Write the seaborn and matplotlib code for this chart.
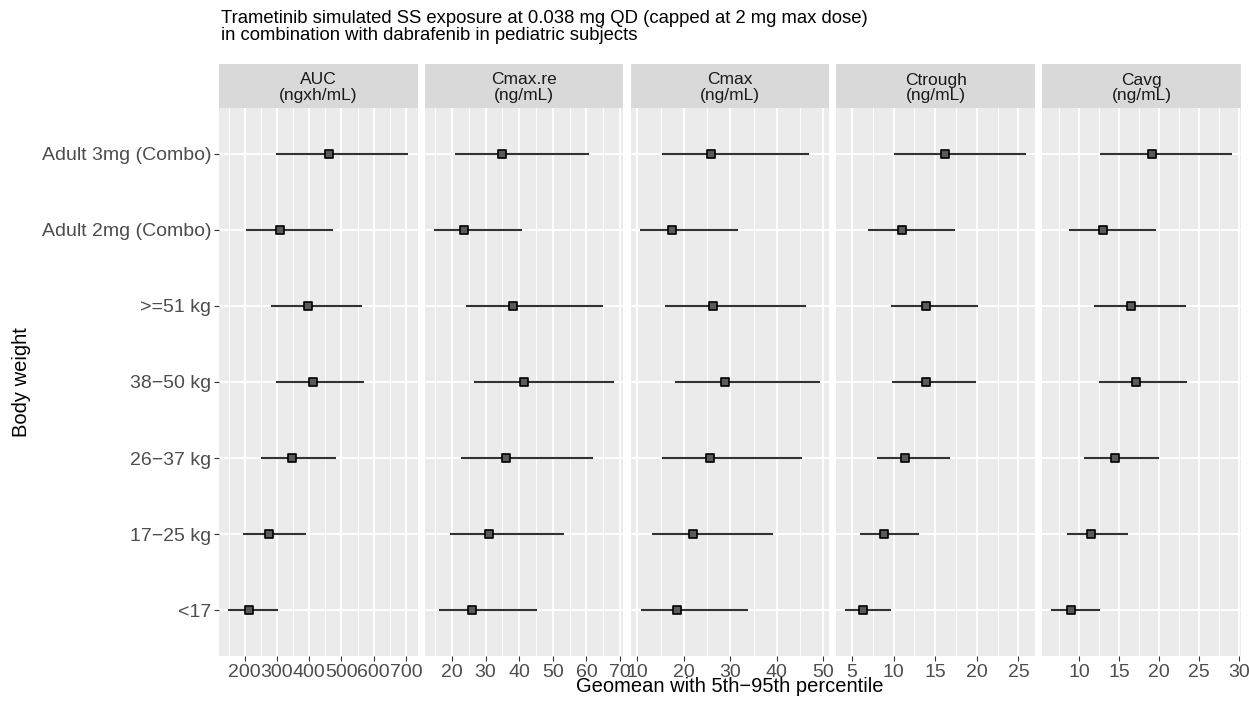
import numpy as np
import pandas as pd
import matplotlib
matplotlib.use("Agg")
import matplotlib.pyplot as plt
from matplotlib.ticker import MultipleLocator
import seaborn as sns

# ---------------- data ----------------
groups = ["<17", "17\u221225 kg", "26\u221237 kg", "38\u221250 kg", ">=51 kg",
          "Adult 2mg (Combo)", "Adult 3mg (Combo)"]
metrics = ["AUC", "Cmax.re", "Cmax", "Ctrough", "Cavg"]
units = ["(ngxh/mL)", "(ng/mL)", "(ng/mL)", "(ng/mL)", "(ng/mL)"]
tick_steps = [100, 10, 10, 5, 5]

auc_gm = [212, 275, 345, 411, 397, 310, 460]
auc_lo = [148, 196, 249, 296, 280, 203, 298]
auc_hi = [302, 389, 484, 569, 564, 475, 708]

cmaxre_gm = [25.9, 31.0, 36.2, 41.4, 38.1, 23.7, 34.9]
cmaxre_lo = [16.0, 19.5, 22.7, 26.7, 24.2, 14.6, 21.0]
cmaxre_hi = [45.4, 53.3, 62.0, 68.3, 64.8, 40.9, 60.8]

cmax_gm = [18.6, 22.0, 25.6, 28.8, 26.3, 17.5, 25.9]
cmax_lo = [10.7, 13.2, 15.4, 18.0, 16.0, 10.5, 15.3]
cmax_hi = [33.7, 39.1, 45.4, 49.3, 46.2, 31.7, 47.0]

ctrough_gm = [6.3, 8.8, 11.4, 13.9, 13.9, 11.0, 16.2]
ctrough_lo = [4.2, 6.0, 8.0, 9.8, 9.7, 6.9, 10.0]
ctrough_hi = [9.7, 13.0, 16.8, 19.9, 20.2, 17.4, 25.9]

cavg_gm = [9.0, 11.5, 14.5, 17.1, 16.5, 13.0, 19.1]
cavg_lo = [6.5, 8.5, 10.6, 12.5, 11.8, 8.7, 12.6]
cavg_hi = [12.6, 16.1, 20.0, 23.5, 23.4, 19.6, 29.1]

title_lines = ["Trametinib simulated SS exposure at 0.038 mg QD (capped at 2 mg max dose)",
               "in combination with dabrafenib in pediatric subjects"]
xlabel = "Geomean with 5th\u221295th percentile"
ylabel = "Body weight"

series = {
    "AUC": (auc_gm, auc_lo, auc_hi),
    "Cmax.re": (cmaxre_gm, cmaxre_lo, cmaxre_hi),
    "Cmax": (cmax_gm, cmax_lo, cmax_hi),
    "Ctrough": (ctrough_gm, ctrough_lo, ctrough_hi),
    "Cavg": (cavg_gm, cavg_lo, cavg_hi),
}
rows = []
for m in metrics:
    gm, lo, hi = series[m]
    for g, a, b, c in zip(groups, gm, lo, hi):
        rows.append({"metric": m, "group": g, "gm": a, "lo": b, "hi": c})
df = pd.DataFrame(rows)

# ---------------- style ----------------
sns.set_theme(style="darkgrid")
plt.rcParams["font.family"] = ["Liberation Sans", "DejaVu Sans"]

W, H = 1249, 705
fig = plt.figure(figsize=(W / 100, H / 100), dpi=100, facecolor="white")

def fx(px):
    return px / W

def fy(py):
    return 1 - py / H

left, right, top, bottom = 219, 1240.7, 108, 656
gap = 7.3
pw = (right - left - 4 * gap) / 5

axes = []
for i, m in enumerate(metrics):
    x0 = left + i * (pw + gap)
    ax = fig.add_axes([fx(x0), fy(bottom), fx(pw), (bottom - top) / H])
    axes.append(ax)
    sub = df[df["metric"] == m]
    ax.set_facecolor("#EBEBEB")
    ax.hlines(list(sub["group"]), sub["lo"], sub["hi"], color="#333333",
              lw=1.5, zorder=2)
    sns.scatterplot(data=sub, x="gm", y="group", ax=ax, marker="s", s=40,
                    color="#5A5A5A", edgecolor="black", linewidth=1.2,
                    zorder=3, legend=False)
    lo_min, hi_max = sub["lo"].min(), sub["hi"].max()
    pad = 0.05 * (hi_max - lo_min)
    ax.set_xlim(lo_min - pad, hi_max + pad)
    ax.set_ylim(-0.6, len(groups) - 0.4)
    ax.xaxis.set_major_locator(MultipleLocator(tick_steps[i]))
    ax.xaxis.set_minor_locator(MultipleLocator(tick_steps[i] / 2))
    ax.grid(False)
    ax.grid(which="major", axis="both", color="white", lw=1.4)
    ax.grid(which="minor", axis="x", color="white", lw=0.7)
    ax.set_axisbelow(True)
    for s in ax.spines.values():
        s.set_visible(False)
    ax.tick_params(axis="both", which="major", length=3.5, width=0.8,
                   color="#333333", labelsize=14, labelcolor="#4D4D4D", pad=2)
    ax.tick_params(axis="x", which="minor", length=0)
    ax.tick_params(axis="x", which="major", bottom=True)
    ax.tick_params(axis="y", which="major", left=True)
    ax.set_xlabel("")
    ax.set_ylabel("")
    if i > 0:
        ax.tick_params(axis="y", labelleft=False, left=False)

    # strip
    st_top = 64
    sax = fig.add_axes([fx(x0), fy(top), fx(pw), (top - st_top) / H])
    sax.set_facecolor("#D9D9D9")
    sax.set_xticks([])
    sax.set_yticks([])
    sax.grid(False)
    for s in sax.spines.values():
        s.set_visible(False)
    cx = fx(x0 + pw / 2)
    fig.text(cx, fy(84.5), m, ha="center", va="baseline", fontsize=12.5,
             color="#1A1A1A")
    fig.text(cx, fy(100), units[i], ha="center", va="baseline", fontsize=12.5,
             color="#1A1A1A")

# title
fig.text(fx(221), fy(23), title_lines[0], ha="left", va="baseline",
         fontsize=13.3, color="black")
fig.text(fx(221), fy(39.5), title_lines[1], ha="left", va="baseline",
         fontsize=13.3, color="black")

# axis titles
fig.text(fx((left + right) / 2), fy(687), xlabel, ha="center", va="center",
         fontsize=14.5, color="black")
fig.text(fx(22), fy((top + bottom) / 2), ylabel, ha="center", va="center",
         rotation=90, fontsize=14.5, color="black")

fig.savefig("out.png", dpi=100, facecolor="white")
